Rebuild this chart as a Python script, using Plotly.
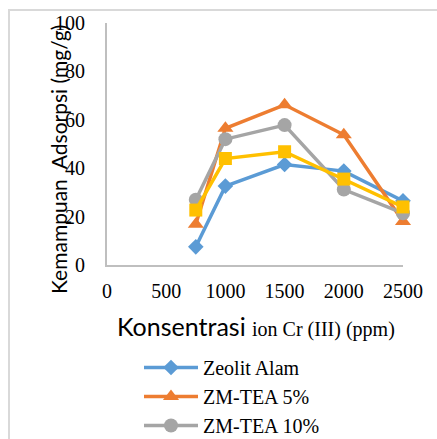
import plotly.graph_objects as go

konsentrasi = [750, 1000, 1500, 2000, 2500]
zeolit_alam = [7.5, 32.6, 41.5, 38.8, 26.5]
zm_tea_5 = [16.8, 56.5, 66.2, 53.8, 18.0]
zm_tea_10 = [27.0, 52.0, 57.8, 31.2, 21.4]
zm_tea_15 = [22.7, 44.0, 46.8, 35.5, 24.0]

x_ticks = [0, 500, 1000, 1500, 2000, 2500]
y_ticks = [0, 20, 40, 60, 80, 100]

W, H = 437, 439
ml, mr, mt, mb = 107, 34, 23, 174
pw, ph = W - ml - mr, H - mt - mb

def px_x(p):
    return (p - ml) / pw

def px_y(p):
    return (H - mb - p) / ph

fig = go.Figure()
series = [
    ("Zeolit Alam", zeolit_alam, "#5B9BD5", "diamond", 12, True),
    ("ZM-TEA 5%", zm_tea_5, "#ED7D31", "triangle-up", 14, True),
    ("ZM-TEA 10%", zm_tea_10, "#A5A5A5", "circle", 14, True),
    ("ZM-TEA 15%", zm_tea_15, "#FFC000", "square", 13, False),
]
for name, vals, color, sym, sz, show in series:
    fig.add_trace(go.Scatter(
        x=konsentrasi, y=vals, name=name, mode="lines+markers",
        line=dict(color=color, width=3.5),
        marker=dict(symbol=sym, size=sz, color=color),
        showlegend=show, cliponaxis=False,
    ))

serif = "Liberation Serif, Times New Roman, serif"
sans = "Lato, Liberation Sans, sans-serif"

fig.update_layout(
    width=W, height=H,
    margin=dict(l=ml, r=mr, t=mt, b=mb, autoexpand=False),
    paper_bgcolor="white", plot_bgcolor="white",
    xaxis=dict(range=[0, 2500], tickvals=x_ticks, showgrid=False, zeroline=False,
               showline=True, linecolor="#bfbfbf", linewidth=2, ticks="",
               tickfont=dict(family=serif, size=20, color="black"),
               ticklabelstandoff=7),
    yaxis=dict(range=[0, 100], tickvals=y_ticks, showgrid=False, zeroline=False,
               showline=True, linecolor="#bfbfbf", linewidth=2, ticks="",
               tickfont=dict(family=serif, size=20, color="black"),
               ticklabelstandoff=16),
    legend=dict(x=px_x(139), y=px_y(348), xanchor="left", yanchor="top",
                font=dict(family=serif, size=20, color="black"),
                bgcolor="rgba(0,0,0,0)", tracegroupgap=0, itemwidth=54),
    showlegend=True,
)

fig.add_annotation(
    text="Kemampuan  Adsorpsi (mg/g)", textangle=-90,
    x=px_x(58), y=px_y(160), xref="paper", yref="paper",
    xanchor="center", yanchor="middle",
    showarrow=False, font=dict(family=sans, size=21, color="black"),
)
fig.add_annotation(
    text="Konsentrasi <span style='font-family:Liberation Serif; font-size:20px'>ion Cr (III) (ppm)</span>",
    x=px_x(256), y=px_y(326), xref="paper", yref="paper",
    xanchor="center", yanchor="middle",
    showarrow=False, font=dict(family=sans, size=25, color="black"),
)
fig.add_shape(type="rect", xref="paper", yref="paper",
              x0=px_x(9), x1=px_x(445), y0=px_y(450), y1=px_y(10),
              line=dict(color="#d9d9d9", width=2), fillcolor="rgba(0,0,0,0)", layer="below")

fig.write_html("out.html")
